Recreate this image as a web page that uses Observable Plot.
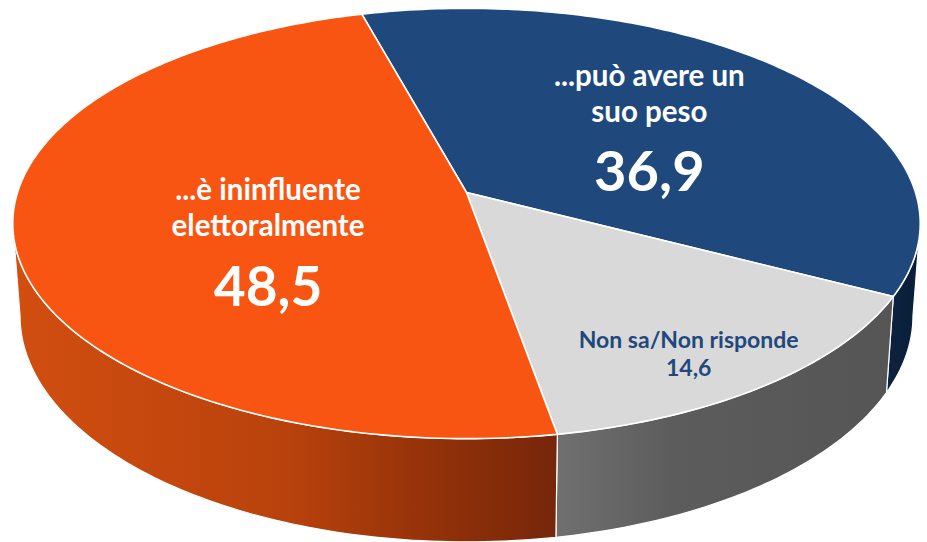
<!DOCTYPE html>
<html>
<head>
<meta charset="utf-8">
<script src="https://cdn.jsdelivr.net/npm/d3@7"></script>
<script src="https://cdn.jsdelivr.net/npm/@observablehq/plot@0.6"></script>
<style>
html,body{margin:0;padding:0;background:#fff}
svg{display:block}
</style>
</head>
<body>
<div id="chart"></div>
<script>
// Data, clockwise from the start angle
const categories = ["...può avere un suo peso", "Non sa/Non risponde", "...è ininfluente elettoralmente"];
const values = [36.9, 14.6, 48.5];
const valueLabels = ["36,9", "14,6", "48,5"];
const faceColors = ["#1f497d", "#d9d9d9", "#f75511"];

// Layout of the tilted disc
const W = 927, H = 542;
const startAngle = -15.4, cx = 466, cy = 192, Rx = 449, Ry = 210.7, k = 0.144;
const rad = Math.PI / 180;
const limit = Math.acos(-k) / rad; // angle of the silhouette tangent

function topPt(theta, r = 1) {
  const u = r * Math.sin(theta * rad), v = r * Math.cos(theta * rad), w = 1 + k * v;
  return [cx + Rx * u / w, cy - Ry * v / w];
}
function bottomPt(theta) {
  const [X, Y] = topPt(theta);
  return [cx + (X - cx) * 0.984, Y + 96 + 0.0507 * (Y - 296)];
}
function arc(a0, a1) {
  const n = Math.max(2, Math.ceil(Math.abs(a1 - a0)));
  return d3.range(n + 1).map(i => a0 + (a1 - a0) * i / n);
}

let acc = startAngle;
const slices = values.map((v, i) => {
  const a0 = acc, a1 = acc + v * 3.6;
  acc = a1;
  return {i, a0, a1, mid: (a0 + a1) / 2};
});

const toRows = pts => pts.map(([px, py]) => ({px, py}));
const faceRows = s => toRows([[cx, cy], ...arc(s.a0, s.a1).map(t => topPt(t))]);
function wallRows(s) {
  const a0 = Math.max(s.a0, limit), a1 = Math.min(s.a1, 360 - limit);
  const as = arc(a0, a1);
  return toRows([...as.map(t => topPt(t)), ...as.slice().reverse().map(t => bottomPt(t))]);
}

const gradients = {
  wall0: [[0, "#0c2340"], [1, "#0a1d38"]],
  wall1: [[0, "#707070"], [0.35, "#5c5c5c"], [1, "#555555"]],
  wall2: [[0, "#d24e10"], [0.5, "#b9420c"], [0.8, "#8f3009"], [1, "#76260a"]]
};
const defs = () => {
  const d = d3.create("svg:defs");
  for (const [id, stops] of Object.entries(gradients)) {
    const g = d.append("linearGradient").attr("id", id);
    for (const [o, c] of stops) g.append("stop").attr("offset", o).attr("stop-color", c);
  }
  return d.node();
};

const shape = (rows, fill, strokeWidth) => Plot.line(rows, {
  x: "px", y: "py", curve: "linear-closed", fill, stroke: "white", strokeWidth, strokeLinejoin: "round"
});

// Label anchors: polar position on the slice's mid angle + line offsets
const labelLayout = [
  {r: 0.55, dx: 0, lines: [[categories[0].slice(0, 15), -47, 29.5], [categories[0].slice(16), -11, 29.5], [valueLabels[0], 50, 56]]},
  {r: 0.77, dx: -2.5, lines: [[categories[1], 5, 23], [valueLabels[1], 33, 23]]},
  {r: 0.45, dx: 1.5, lines: [[categories[2].slice(0, 16), -23, 29.5], [categories[2].slice(17), 12.5, 29.5], [valueLabels[2], 75, 55]]}
];
const textColors = ["white", "#1f497d", "white"];
const labelRows = slices.flatMap(s => {
  const [X, Y] = topPt(s.mid, labelLayout[s.i].r);
  return labelLayout[s.i].lines.map(([text, dy, size]) => ({
    px: X + labelLayout[s.i].dx, py: Y + dy, text, size, color: textColors[s.i]
  }));
});
const textMarks = d3.groups(labelRows, d => d.size + d.color + d.py).map(([, rows]) =>
  Plot.text(rows, {
    x: "px", y: "py", text: "text", fill: rows[0].color, fontSize: rows[0].size,
    fontWeight: 700, fontFamily: "Lato", textAnchor: "middle", lineAnchor: "middle"
  })
);

const chart = Plot.plot({
  width: W, height: H, margin: 0,
  x: {domain: [0, W], range: [0, W], axis: null},
  y: {domain: [0, H], range: [0, H], axis: null},
  style: {background: "white"},
  marks: [
    defs,
    ...slices.filter(s => s.a1 > limit && s.a0 < 360 - limit).map(s => shape(wallRows(s), `url(#wall${s.i})`, 1.2)),
    ...slices.map(s => shape(faceRows(s), faceColors[s.i], 1.6)),
    ...textMarks
  ]
});
document.getElementById("chart").append(chart);
</script>
</body>
</html>
